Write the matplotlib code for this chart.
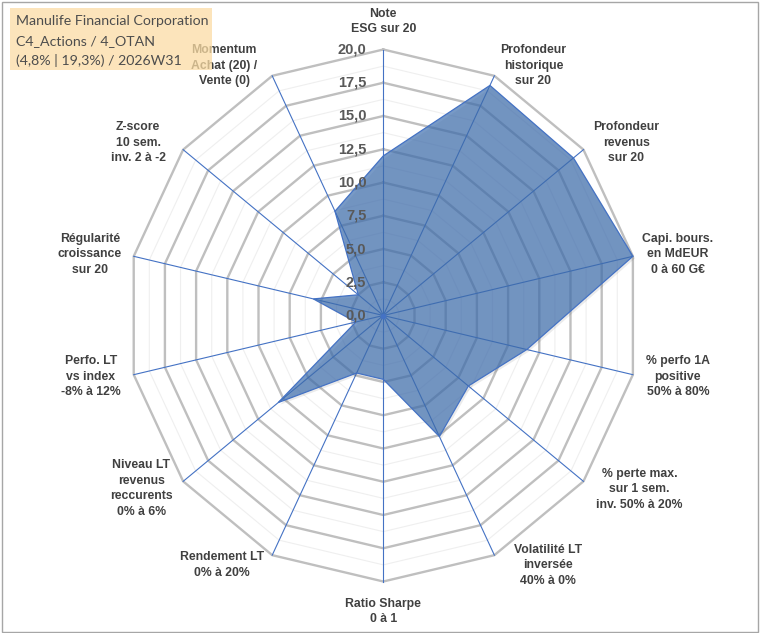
import numpy as np
import matplotlib.pyplot as plt
from matplotlib.patches import Polygon, Rectangle
import matplotlib.patheffects as pe

# axes, clockwise from the top
categories = [
    "Note\nESG sur 20",
    "Profondeur\nhistorique\nsur 20",
    "Profondeur\nrevenus\nsur 20",
    "Capi. bours.\nen MdEUR\n0 à 60 G€",
    "% perfo 1A\npositive\n50% à 80%",
    "% perte max.\nsur 1 sem.\ninv. 50% à 20%",
    "Volatilité LT\ninversée\n40% à 0%",
    "Ratio Sharpe\n0 à 1",
    "Rendement LT\n0% à 20%",
    "Niveau LT\nrevenus\nreccurents\n0% à 6%",
    "Perfo. LT\nvs index\n-8% à 12%",
    "Régularité\ncroissance\nsur 20",
    "Z-score\n10 sem.\ninv. 2 à -2",
    "Momentum\nAchat (20) /\nVente (0)",
]
values = [12.0, 19.2, 19.0, 20.0, 11.5, 8.5, 10.1, 4.8, 4.8, 10.5, 2.2, 5.6, 2.5, 8.7]
ticks = np.arange(0, 20.01, 2.5)
rmax = 20
info_lines = ["Manulife Financial Corporation", "C4_Actions / 4_OTAN", "(4,8% | 19,3%) / 2026W31"]

# label offsets from the outer vertex, in pixels (x right, y up)
label_off = [(0, 28), (39, 10), (43, 7), (45, 2), (45, -2), (56, -8), (54, -10),
             (0, -30), (-50, -10), (-42, -7), (-43, -2), (-44, 2), (-45, 7), (-48, 10)]

n = len(categories)
theta = np.arange(n) * 2 * np.pi / n
sx, sy = np.sin(theta), np.cos(theta)

W, H = 760, 633
cx, cy = 383.3, 315.5
px_x, px_y = 256 / rmax, 266 / rmax

fig = plt.figure(figsize=(W / 100, H / 100), dpi=100)
ax = fig.add_axes([0, 0, 1, 1])
ax.set_xlim(-cx / px_x, (W - cx) / px_x)
ax.set_ylim(-(H - cy) / px_y, cy / px_y)
ax.axis("off")

# polygon grid
for lev in np.arange(1.25, rmax + 0.01, 1.25):
    major = abs(lev / 2.5 - round(lev / 2.5)) < 1e-6
    xs = np.append(lev * sx, lev * sx[0])
    ys = np.append(lev * sy, lev * sy[0])
    if major:
        ax.plot(xs, ys, color="#bfbfbf", lw=1.7, zorder=1)
    else:
        ax.plot(xs, ys, color="#efefef", lw=0.8, zorder=0.5)

# spokes
for i in range(n):
    ax.plot([0, rmax * sx[i]], [0, rmax * sy[i]], color="#4472c4", lw=0.8, zorder=2)

# data polygon
pts = np.column_stack([np.array(values) * sx, np.array(values) * sy])
ax.add_patch(Polygon(pts, closed=True, facecolor="#3f6faf", alpha=0.7,
                     edgecolor="none", zorder=3,
                     path_effects=[pe.SimplePatchShadow(offset=(1.5, -1.5), shadow_rgbFace="k", alpha=0.08),
                                   pe.Normal()]))
ax.add_patch(Polygon(pts, closed=True, facecolor="none", edgecolor="#4472c4",
                     lw=0.9, zorder=4))
ax.plot([0], [0], "o", color="#4472c4", ms=3, zorder=4)

# radial tick labels
for v in ticks:
    ax.annotate(f"{v:.1f}".replace(".", ","), xy=(0, v), xytext=(-17, 0),
                textcoords="offset pixels", ha="right", va="center",
                fontsize=10.5, fontweight="bold", color="#595959",
                family="Liberation Sans", zorder=6)

# category labels
for i, lab in enumerate(categories):
    ax.annotate(lab, xy=(rmax * sx[i], rmax * sy[i]), xytext=label_off[i],
                textcoords="offset pixels", ha="center", va="center",
                multialignment="center", fontsize=8.8, fontweight="bold",
                color="#404040", family="Liberation Sans", linespacing=1.4,
                zorder=6)

# info box, top left
fig.patches.append(Rectangle((10 / W, 1 - 70 / H), 202 / W, 62 / H,
                             transform=fig.transFigure, facecolor="#fbdca4",
                             alpha=0.75, edgecolor="none", zorder=8))
for k, line in enumerate(info_lines):
    fig.text(16 / W, 1 - (21 + k * 19.8) / H, line, ha="left", va="center",
             fontsize=10.2, color="#4d4d4d", family="Lato", zorder=9)

# outer frame
fig.patches.append(Rectangle((0.002, 0.002), 0.995, 0.995, transform=fig.transFigure,
                             facecolor="none", edgecolor="#a6a6a6", lw=1, zorder=10))

fig.savefig("out.png", dpi=100)
